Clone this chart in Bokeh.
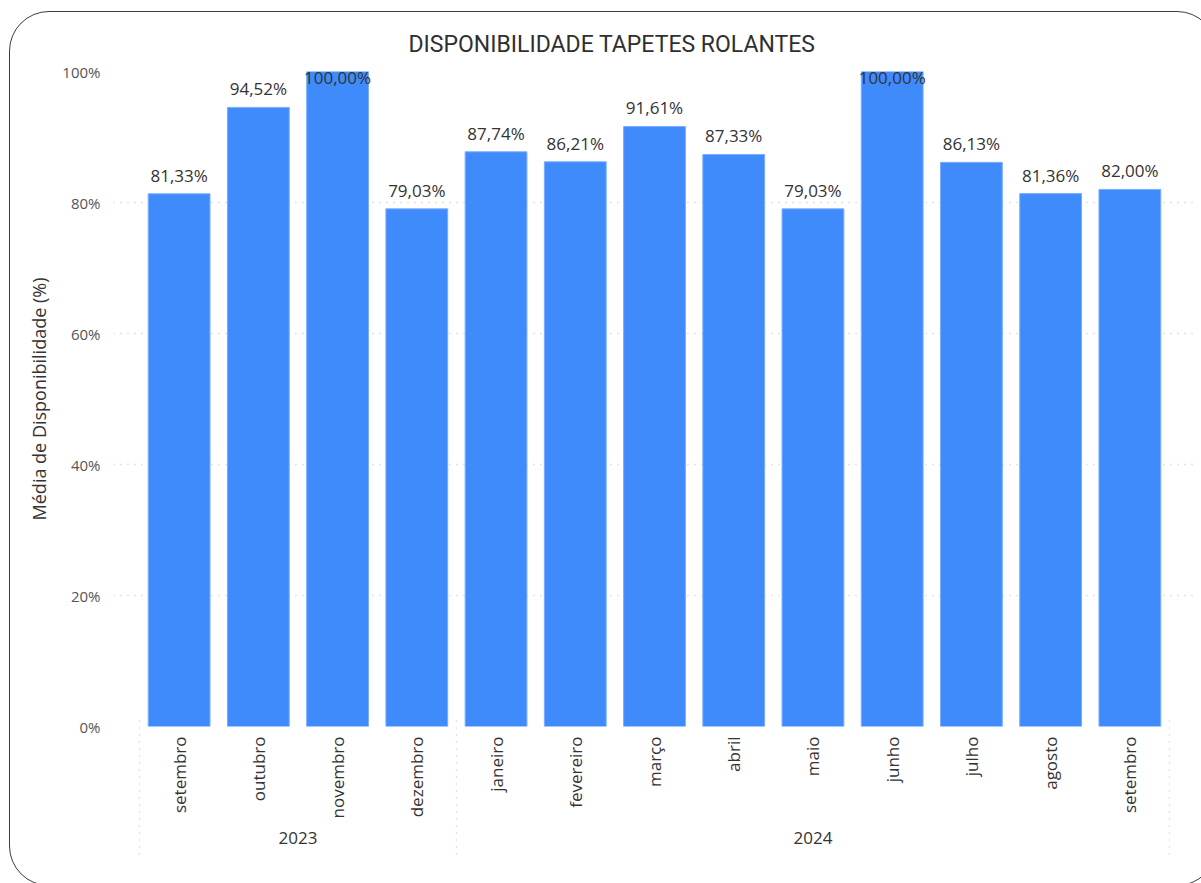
import math
from bokeh.plotting import figure
from bokeh.models import (ColumnDataSource, FactorRange, PrintfTickFormatter,
                          FixedTicker, LinearAxis, InlineStyleSheet)
from bokeh.core.properties import value
from bokeh.embed import file_html
from bokeh.resources import INLINE

# ---- data ----
years = ["2023", "2023", "2023", "2023",
         "2024", "2024", "2024", "2024", "2024", "2024", "2024", "2024", "2024"]
months = ["setembro", "outubro", "novembro", "dezembro", "janeiro", "fevereiro",
          "março", "abril", "maio", "junho", "julho", "agosto", "setembro"]
values = [81.33, 94.52, 100.00, 79.03, 87.74, 86.21, 91.61, 87.33, 79.03,
          100.00, 86.13, 81.36, 82.00]
y_ticks = [0, 20, 40, 60, 80, 100]
title_text = "DISPONIBILIDADE TAPETES ROLANTES"
y_label = "Média de Disponibilidade (%)"

factors = list(zip(years, months))
labels = [("%.2f" % v).replace(".", ",") + "%" for v in values]
offsets = [17 if v >= 99.5 else -7 for v in values]

# group boundaries (in synthetic factor units) for the dotted separators
n = len(factors)
bounds = [0] + [i for i in range(1, n) if years[i] != years[i - 1]] + [n]

src = ColumnDataSource(dict(x=factors, v=values, lab=labels, off=offsets))

BAR = "#3F8BFC"
FONT = "Open Sans"
W, H = 1201, 883
PAD = 0.0505

xr = FactorRange(*factors, factor_padding=0, group_padding=0,
                 range_padding=PAD, range_padding_units="percent")

card_css = InlineStyleSheet(css="""
:host { position: relative; overflow: hidden; }
:host::after {
  content: ""; position: absolute; left: 9px; top: 11px;
  width: 1208px; height: 875px; box-sizing: border-box;
  border: 1.6px solid #3c3c3c; border-radius: 40px;
  pointer-events: none; z-index: 100;
}
""")

p = figure(width=W, height=H, x_range=xr, y_range=(0, 100),
           output_backend="svg", toolbar_location=None,
           min_border_left=113, min_border_right=6,
           min_border_top=71, min_border_bottom=157,
           stylesheets=[card_css])
p.outline_line_color = None
p.background_fill_color = "white"
p.border_fill_color = "white"

p.title.text = title_text
p.title.align = "left"
p.title.offset = 295
p.title.standoff = 27
p.title.text_font = "Roboto"
p.title.text_font_size = "23px"
p.title.text_font_style = "normal"
p.title.text_color = "#2f2f2f"

p.vbar(x="x", top="v", width=0.78, source=src, fill_color=BAR,
       line_color="#79adfd", line_width=1)

p.text(x="x", y="v", text="lab", source=src, y_offset="off",
       text_align="center", text_baseline="bottom",
       text_font=value(FONT), text_font_size="17px", text_color="#333333")

# y axis
p.yaxis.ticker = FixedTicker(ticks=y_ticks)
p.yaxis.formatter = PrintfTickFormatter(format="%d%%")
p.yaxis.axis_line_color = None
p.yaxis.major_tick_line_color = None
p.yaxis.major_tick_out = 0
p.yaxis.major_tick_in = 0
p.yaxis.minor_tick_line_color = None
p.yaxis.major_label_text_font = FONT
p.yaxis.major_label_text_font_size = "15px"
p.yaxis.major_label_text_color = "#555555"
p.yaxis.major_label_standoff = 13
p.yaxis.axis_label = y_label
p.yaxis.axis_label_text_font = FONT
p.yaxis.axis_label_text_font_style = "normal"
p.yaxis.axis_label_text_font_size = "18px"
p.yaxis.axis_label_text_color = "#333333"
p.yaxis.axis_label_standoff = 8

p.ygrid.grid_line_color = "#c8c8c8"
p.ygrid.grid_line_dash = "1 6"
p.ygrid.grid_line_width = 1.3
p.xgrid.grid_line_color = None

# x axis (nested categories)
xa = p.xaxis[0]
xa.axis_line_color = None
xa.major_tick_line_color = None
xa.major_tick_out = 0
xa.major_tick_in = 0
xa.minor_tick_line_color = None
xa.major_label_orientation = math.pi / 2
xa.major_label_text_font = FONT
xa.major_label_text_font_size = "17px"
xa.major_label_text_color = "#333333"
xa.major_label_standoff = 10
xa.group_text_font = FONT
xa.group_text_font_size = "17px"
xa.group_text_color = "#333333"
xa.group_text_font_style = "normal"
xa.separator_line_color = None

# dotted separators at the group boundaries, drawn as long inward ticks
sep = LinearAxis(ticker=FixedTicker(ticks=bounds),
                 axis_line_color=None, minor_tick_line_color=None,
                 major_tick_in=132, major_tick_out=8,
                 major_tick_line_color="#c8c8c8", major_tick_line_dash="1 6",
                 major_tick_line_width=1.3,
                 major_label_overrides={b: "" for b in bounds},
                 major_label_text_color=None,
                 major_label_text_font_size="1px", major_label_standoff=0)
p.add_layout(sep, "below")

open("out.html", "w").write(file_html(p, INLINE))
